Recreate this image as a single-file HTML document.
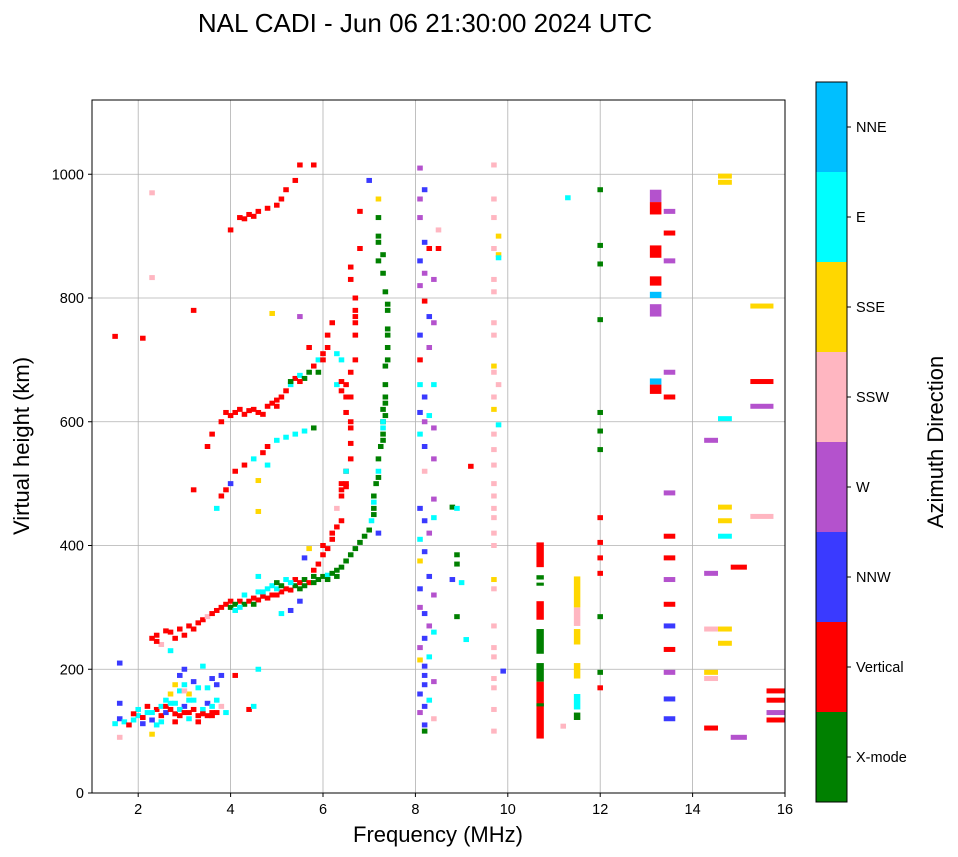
<!DOCTYPE html>
<html><head><meta charset="utf-8"><style>
html,body{margin:0;padding:0;background:#fff;width:958px;height:857px;overflow:hidden}
svg{display:block;font-family:"Liberation Sans",sans-serif}
</style></head><body>
<svg id="chart" width="958" height="857" viewBox="0 0 958 857" xmlns="http://www.w3.org/2000/svg">
<text x="425" y="32" font-size="26" text-anchor="middle">NAL CADI - Jun 06 21:30:00 2024 UTC</text>
<g id="grid"></g>
<g id="marks"></g>
<rect x="92" y="100" width="693" height="693" fill="none" stroke="#000" stroke-width="1"/>
<g id="ticks" font-size="14.5"></g>
<text x="438" y="842" font-size="22" text-anchor="middle">Frequency (MHz)</text>
<text transform="translate(29,446) rotate(-90)" font-size="22" text-anchor="middle">Virtual height (km)</text>
<g id="cbar" font-size="14.5"></g>
<text transform="translate(943,442) rotate(-90)" font-size="22" text-anchor="middle">Azimuth Direction</text>
</svg>
<script>
const directions = ["X-mode","Vertical","NNW","W","SSW","SSE","E","NNE"];
const dirColors = ["#008000","#ff0000","#3a3aff","#b452cd","#ffb6c1","#ffd700","#00ffff","#00bfff"];
const xTicks = [2,4,6,8,10,12,14,16];
const yTicks = [0,200,400,600,800,1000];
// echoes: [freq MHz, height km, direction index, optional width MHz]
const echoes = [
[1.5,112,6],[1.6,120,2],[1.6,145,2],[1.6,210,2],[1.6,90,4],[1.7,115,6],[1.8,110,1],[1.9,118,6],[2.0,125,6],[2.1,122,1],[2.2,130,6],[2.3,118,2],[2.3,95,5],[2.4,135,1],[2.4,110,6],[2.5,140,6],[2.5,125,1],[2.6,130,2],[2.6,150,6],[2.7,135,1],[2.7,160,5],[2.8,128,1],[2.8,145,6],[2.9,165,6],[2.9,125,1],[3.0,175,6],[3.0,140,2],[3.1,130,1],[3.1,160,5],[3.2,150,6],[3.2,180,2],[3.3,125,1],[3.3,170,6],[3.4,135,6],[3.5,145,2],[3.5,125,1],[3.6,185,2],[3.6,130,1],[3.7,150,6],[3.7,175,2],[3.8,140,4],[4.1,190,1],[4.4,135,1],[4.5,140,6],[4.6,200,6],[3.1,120,6],[2.9,190,2],[2.2,140,1],[2.0,135,6],[3.4,205,6],[2.7,230,6],[2.8,115,1],[3.0,200,2],[3.3,115,1],[3.9,130,6],[3.8,190,2],
[2.6,140,1],[2.9,135,6],[3.0,130,1],[3.2,135,1],[3.4,128,1],[3.6,140,6],[2.5,115,6],[2.7,145,6],[3.1,150,6],[2.3,130,6],[1.9,128,1],[2.1,112,2],[3.5,170,6],[2.8,175,5],[3.0,165,4],[3.6,125,1],[3.7,130,1],
[2.3,250,1],[2.4,255,1],[2.5,240,4],[2.7,260,1],[2.8,250,1],[2.9,265,1],[3.0,255,1],[3.1,270,1],[3.2,265,1],[3.4,280,1],[3.5,285,4],[3.6,290,1],[3.7,295,1],[3.8,300,1],[3.9,305,1],[4.0,300,0],[4.0,310,1],[4.1,295,6],[4.2,310,1],[4.3,305,0],[4.3,320,6],[4.4,310,1],[4.5,315,1],[4.6,312,1],[4.6,325,6],[4.7,318,1],[4.8,315,1],[4.9,320,1],[4.9,335,6],[5.0,320,1],[5.0,340,0],[5.1,325,1],[5.2,330,1],[5.2,345,6],[5.3,328,1],[5.4,335,0],[5.4,345,1],[5.5,340,1],[5.5,330,0],[5.6,345,0],[5.7,340,1],[5.8,350,0],[5.9,345,0],[6.0,350,0],[6.1,352,6],[6.2,355,0],[6.3,360,0],[6.4,365,0],[6.5,375,0],[6.6,385,0],[6.7,395,0],[6.8,405,0],[6.9,415,0],[7.0,425,0],[7.05,440,6],[7.1,460,0],[7.1,480,0],[7.15,500,0],[7.2,520,6],[7.2,540,0],[7.25,560,0],[7.3,580,0],[7.3,600,0],[7.3,620,0],[7.35,640,0],[7.35,660,0],[7.35,690,0],[7.4,720,0],[7.4,750,0],[7.4,780,0],[7.35,810,0],[7.3,840,0],[7.3,870,0],[7.2,900,0],[7.2,930,0],[7.2,960,5],[7.0,990,2],[7.3,600,6],[7.2,420,2],[5.5,310,2],[5.3,295,2],[5.1,290,6],[4.6,350,6],[5.6,380,2],[6.0,400,1],[5.7,395,5],
[4.1,305,0],[4.2,300,6],[4.5,305,0],[4.7,325,6],[4.8,330,6],[5.0,330,6],[5.1,335,0],[5.3,340,6],[5.6,335,0],[5.8,340,0],[6.1,345,0],[6.3,350,0],[7.1,450,0],[7.1,470,6],[7.2,510,0],[7.3,570,0],[7.3,590,6],[7.35,610,0],[7.35,630,0],[7.4,700,0],[7.4,740,0],[7.4,790,0],[7.2,890,0],[7.2,860,0],[3.3,275,1],[2.6,262,1],[2.4,245,1],
[5.8,360,1],[5.9,370,1],[6.0,385,1],[6.1,395,1],[6.2,410,1],[6.3,430,1],[6.4,440,1],[6.3,460,4],[6.4,480,1],[6.5,500,1],[6.5,520,1],[6.6,540,1],[6.6,565,1],[6.6,600,1],[6.5,615,1],[6.6,640,1],[6.5,660,1],[6.6,680,1],[6.7,700,1],[6.7,740,1],[6.7,770,1],[6.7,800,1],[6.6,830,1],[6.6,850,1],[6.8,880,1],[6.8,940,1],[6.5,640,1],[6.3,660,6],[6.4,700,6],[6.5,520,6],
[6.4,490,1],[6.5,495,1],[6.4,500,1],[6.6,590,1],[6.7,760,1],[6.7,780,1],[6.4,665,1],[6.4,650,1],[6.2,420,1],
[3.2,490,1],[3.7,460,6],[3.8,480,1],[3.9,490,1],[4.0,500,2],[4.1,520,1],[4.3,530,1],[4.5,540,6],[4.6,455,5],[4.7,550,1],[4.8,560,1],[5.0,570,6],[5.2,575,6],[5.4,580,6],[5.6,585,6],[5.8,590,0],[4.6,505,5],[4.8,530,6],
[3.5,560,1],[3.6,580,1],[3.8,600,1],[3.9,615,1],[4.0,610,1],[4.2,620,1],[4.4,618,1],[4.6,615,1],[4.8,625,1],[4.9,630,1],[5.0,635,1],[5.1,640,1],[5.2,650,1],[5.3,660,6],[5.4,670,1],[5.5,675,6],[5.6,670,0],[5.7,680,0],[5.8,690,1],[5.9,700,6],[6.0,710,1],[6.1,740,1],[6.2,760,1],[6.3,710,6],[5.5,770,3],[5.7,720,1],[5.9,680,0],
[4.1,615,1],[4.3,612,1],[4.5,620,1],[4.7,612,1],[5.0,625,1],[5.3,665,0],[5.5,665,1],[6.0,700,1],[6.1,720,1],
[4.9,775,5],[4.0,910,1],[4.2,930,1],[4.4,935,1],[4.6,940,1],[4.8,945,1],[5.0,950,1],[5.1,960,1],[5.2,975,1],[5.4,990,1],[5.5,1015,1],[5.8,1015,1],[3.2,780,1],[1.5,738,1],[2.1,735,1],[2.3,970,4],[2.3,833,4],[4.3,928,1],[4.5,932,1],
[8.1,1010,3],[8.2,975,2],[8.1,960,3],[8.1,930,3],[8.2,890,2],[8.3,880,1],[8.1,860,2],[8.2,840,3],[8.4,830,3],[8.1,820,3],[8.2,795,1],[8.3,770,2],[8.4,760,3],[8.1,740,2],[8.3,720,3],[8.1,700,1],[8.1,660,6],[8.2,640,2],[8.4,660,6],[8.1,615,2],[8.3,610,6],[8.2,600,3],[8.4,590,3],[8.1,580,6],[8.2,560,2],[8.4,540,3],[8.2,520,4],[8.4,475,3],[8.1,460,2],[8.4,445,6],[8.2,440,2],[8.3,420,3],[8.1,410,6],[8.2,390,2],[8.1,375,5],[8.3,350,2],[8.1,330,2],[8.4,320,3],[8.1,300,3],[8.2,290,2],[8.3,270,3],[8.4,260,6],[8.2,250,2],[8.1,235,3],[8.3,220,6],[8.1,215,5],[8.2,205,2],[8.2,190,2],[8.2,175,2],[8.4,180,3],[8.1,160,2],[8.3,150,6],[8.2,140,2],[8.1,130,3],[8.4,120,4],[8.2,110,2],[8.2,100,0],[8.5,910,4],[8.5,880,1],
[8.8,462,0],[8.9,460,6],[8.9,385,0],[8.9,370,0],[8.9,285,0],[9.0,340,6],[9.1,248,6],[9.2,528,1],[8.8,345,2],
[9.7,1015,4],[9.7,960,4],[9.7,930,4],[9.8,900,5],[9.7,880,4],[9.8,870,5],[9.8,865,6],[9.7,830,4],[9.7,810,4],[9.7,760,4],[9.7,740,4],[9.7,690,5],[9.7,680,4],[9.8,660,4],[9.7,640,4],[9.7,620,5],[9.8,595,6],[9.7,580,4],[9.7,555,4],[9.7,530,4],[9.7,500,4],[9.7,480,4],[9.7,460,4],[9.7,445,4],[9.7,420,4],[9.7,400,4],[9.7,345,5],[9.7,330,4],[9.7,270,4],[9.7,235,4],[9.7,220,4],[9.7,185,4],[9.7,170,4],[9.7,135,4],[9.7,100,4],[9.9,197,2],
[11.3,962,6],[11.2,108,4],
[12,975,0],[12,885,0],[12,855,0],[12,765,0],[12,615,0],[12,585,0],[12,555,0],[12,445,1],[12,405,1],[12,380,1],[12,355,1],[12,285,0],[12,195,0],[12,170,1],
[13.5,940,3,0.25],[13.5,905,1,0.25],[13.5,860,3,0.25],[13.5,680,3,0.25],[13.5,640,1,0.25],[13.5,485,3,0.25],[13.5,415,1,0.25],[13.5,380,1,0.25],[13.5,345,3,0.25],[13.5,305,1,0.25],[13.5,270,2,0.25],[13.5,232,1,0.25],[13.5,195,3,0.25],[13.5,152,2,0.25],[13.5,120,2,0.25],
[14.4,570,3,0.3],[14.4,355,3,0.3],[14.4,265,4,0.3],[14.4,195,5,0.3],[14.4,105,1,0.3],[14.4,185,4,0.3],
[14.7,997,5,0.3],[14.7,987,5,0.3],[14.7,605,6,0.3],[14.7,462,5,0.3],[14.7,440,5,0.3],[14.7,415,6,0.3],[14.7,265,5,0.3],[14.7,242,5,0.3],
[15.0,90,3,0.35],[15.0,365,1,0.35],
[15.5,787,5,0.5],[15.5,665,1,0.5],[15.5,625,3,0.5],[15.5,447,4,0.5],
[15.8,165,1,0.4],[15.8,150,1,0.4],[15.8,130,3,0.4],[15.8,118,1,0.4]
];
// columns: [freq, low km, high km, direction index, width MHz]
const columns = [
[10.7,88,180,1,0.16],[10.7,180,210,0,0.16],[10.7,225,265,0,0.16],[10.7,280,310,1,0.16],[10.7,345,352,0,0.16],[10.7,365,405,1,0.16],[10.7,335,340,0,0.16],[10.7,140,145,0,0.16],
[11.5,118,130,0,0.14],[11.5,135,160,6,0.14],[11.5,185,210,5,0.14],[11.5,240,265,5,0.14],[11.5,270,300,4,0.14],[11.5,300,350,5,0.14],
[13.2,955,975,3,0.25],[13.2,935,955,1,0.25],[13.2,865,885,1,0.25],[13.2,820,835,1,0.25],[13.2,800,810,7,0.25],[13.2,770,790,3,0.25],[13.2,660,670,7,0.25],[13.2,645,660,1,0.25]
];
const NS="http://www.w3.org/2000/svg";
const x=f=>92+(f-1)*(693/15);
const y=h=>793-h*(693/1120);
function mk(tag,attrs,parent){const e=document.createElementNS(NS,tag);for(const k in attrs)e.setAttribute(k,attrs[k]);parent.appendChild(e);return e;}
const grid=document.getElementById('grid'),marks=document.getElementById('marks'),ticks=document.getElementById('ticks'),cbar=document.getElementById('cbar');
xTicks.forEach(t=>{
  const l=mk('line',{x1:x(t),x2:x(t),y1:100,y2:793,stroke:'#b0b0b0','stroke-width':0.8},grid);
  
  
  mk('line',{x1:x(t),x2:x(t),y1:793,y2:797,stroke:'#000'},ticks);
  const tx=mk('text',{x:x(t),y:814,'text-anchor':'middle'},ticks);tx.textContent=t;
  
  
});
yTicks.forEach(t=>{
  const l=mk('line',{x1:92,x2:785,y1:y(t),y2:y(t),stroke:'#b0b0b0','stroke-width':0.8},grid);
  
  
  mk('line',{x1:88,x2:92,y1:y(t),y2:y(t),stroke:'#000'},ticks);
  const tx=mk('text',{x:84,y:y(t)+5,'text-anchor':'end'},ticks);tx.textContent=t;
  
  
});
echoes.forEach(p=>{
  const w=p[3]||0.12;
  const r=mk('rect',{x:x(p[0]-w/2),y:y(p[1])-2.5,width:w*693/15,height:5,fill:dirColors[p[2]]},marks);
  
  
});
columns.forEach(c=>{
  const r=mk('rect',{x:x(c[0]-c[4]/2),y:y(c[2]),width:c[4]*693/15,height:Math.max(3,y(c[1])-y(c[2])),fill:dirColors[c[3]]},marks);
  
  
});
const segH=90;
directions.forEach((d,i)=>{
  const top=802-(i+1)*segH;
  const r=mk('rect',{x:816,y:top,width:31,height:segH,fill:dirColors[i]},cbar);
  
  
  mk('line',{x1:847,x2:851,y1:top+segH/2,y2:top+segH/2,stroke:'#000'},cbar);
  const tx=mk('text',{x:856,y:top+segH/2+5},cbar);tx.textContent=d;
  
  
});
mk('rect',{x:816,y:82,width:31,height:720,fill:'none',stroke:'#000','stroke-width':1},cbar);
</script>
</body></html>
